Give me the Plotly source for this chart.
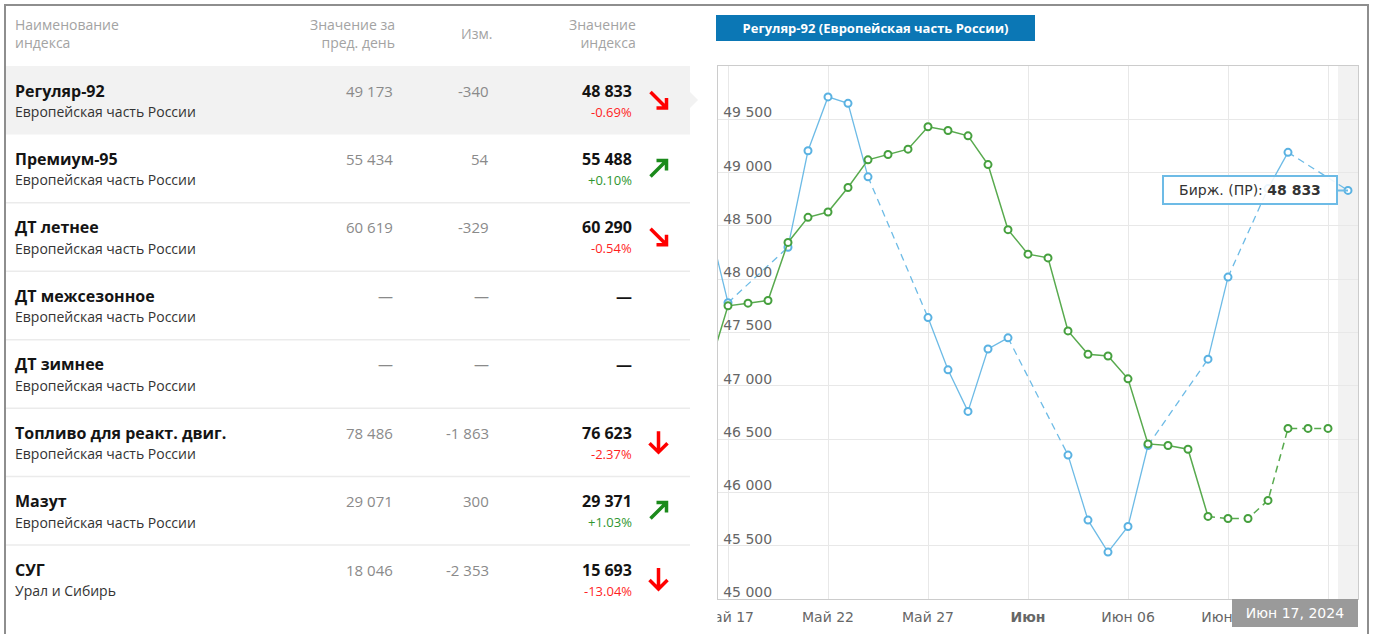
import plotly.graph_objects as go
from datetime import datetime

W, H = 1373, 634
TABLE_FONT = "Open Sans, Noto Sans, sans-serif"
CHART_FONT = "DejaVu Sans, Verdana, sans-serif"

# ---------------- table data ----------------
header_labels = ["Наименование<br>индекса", "Значение за<br>пред. день", "Изм.", "Значение<br>индекса"]
index_names = ["Регуляр-92", "Премиум-95", "ДТ летнее", "ДТ межсезонное", "ДТ зимнее",
               "Топливо для реакт. двиг.", "Мазут", "СУГ"]
index_regions = ["Европейская часть России"] * 7 + ["Урал и Сибирь"]
prev_values = [49173, 55434, 60619, None, None, 78486, 29071, 18046]
changes = [-340, 54, -329, None, None, -1863, 300, -2353]
index_values = [48833, 55488, 60290, None, None, 76623, 29371, 15693]
change_pcts = [-0.69, 0.10, -0.54, None, None, -2.37, 1.03, -13.04]
selected_row = 0

# ---------------- chart data ----------------
chart_title = "Регуляр-92 (Европейская часть России)"
blue_name = "Бирж. (ПР)"
blue_dates = ["2024-05-16", "2024-05-17", "2024-05-20", "2024-05-21", "2024-05-22", "2024-05-23",
              "2024-05-24", "2024-05-27", "2024-05-28", "2024-05-29", "2024-05-30", "2024-05-31",
              "2024-06-03", "2024-06-04", "2024-06-05", "2024-06-06", "2024-06-07", "2024-06-10",
              "2024-06-11", "2024-06-13", "2024-06-14", "2024-06-17"]
blue_values = [48550, 47780, 48300, 49205, 49710, 49650,
               48960, 47640, 47150, 46760, 47345, 47450,
               46350, 45740, 45440, 45680, 46440, 47250,
               48020, 48850, 49190, 48833]

green_dates = ["2024-05-16", "2024-05-17", "2024-05-18", "2024-05-19", "2024-05-20", "2024-05-21",
               "2024-05-22", "2024-05-23", "2024-05-24", "2024-05-25", "2024-05-26", "2024-05-27",
               "2024-05-28", "2024-05-29", "2024-05-30", "2024-05-31", "2024-06-01", "2024-06-02",
               "2024-06-03", "2024-06-04", "2024-06-05", "2024-06-06", "2024-06-07", "2024-06-08",
               "2024-06-09", "2024-06-10", "2024-06-11", "2024-06-12", "2024-06-13", "2024-06-14",
               "2024-06-15", "2024-06-16"]
green_values = [47130, 47750, 47775, 47800, 48345, 48580,
                48630, 48860, 49120, 49170, 49220, 49430,
                49395, 49345, 49075, 48465, 48235, 48200,
                47515, 47295, 47280, 47065, 46455, 46440,
                46405, 45775, 45755, 45755, 45925, 46600,
                46600, 46600]
green_dashed_from = "2024-06-10"

x_range = ["2024-05-16 12:00", "2024-06-17 12:00"]
x_tick_dates = ["2024-05-17", "2024-05-22", "2024-05-27", "2024-06-01", "2024-06-06", "2024-06-11", "2024-06-16"]
x_tick_labels = ["Май 17", "Май 22", "Май 27", "<b>Июн</b>", "Июн 06", "Июн 11", ""]
y_range = [45000, 50000]
y_tick_values = [45000, 45500, 46000, 46500, 47000, 47500, 48000, 48500, 49000, 49500]
hover_date_label = "Июн 17, 2024"

BLUE = "#6dbbe6"
BLUE_M = "#5ab2e2"
GREEN = "#58aa4e"
GREEN_M = "#46a03e"
RED = "#ff1f1f"
GREEN_TXT = "#2f962f"


def px(x):
    return x / W


def py(y):
    return 1 - y / H


def fmt_int(v):
    return f"{v:,}".replace(",", " ")


def build_segments(dates, values, is_dashed):
    sx, sy, dx, dy = [], [], [], []
    for i in range(len(dates) - 1):
        tx, ty = (dx, dy) if is_dashed(i) else (sx, sy)
        if tx and tx[-1] == dates[i]:
            tx.append(dates[i + 1]); ty.append(values[i + 1])
        else:
            if tx:
                tx.append(None); ty.append(None)
            tx += [dates[i], dates[i + 1]]; ty += [values[i], values[i + 1]]
    return sx, sy, dx, dy


def day(s):
    return datetime.fromisoformat(s)


fig = go.Figure()

blue_sx, blue_sy, blue_dx, blue_dy = build_segments(
    blue_dates, blue_values, lambda i: (day(blue_dates[i + 1]) - day(blue_dates[i])).days > 1)
green_sx, green_sy, green_dx, green_dy = build_segments(
    green_dates, green_values, lambda i: green_dates[i] >= green_dashed_from)

fig.add_trace(go.Scatter(x=blue_sx, y=blue_sy, mode="lines", line=dict(color=BLUE, width=1.3), hoverinfo="skip"))
fig.add_trace(go.Scatter(x=blue_dx, y=blue_dy, mode="lines", line=dict(color=BLUE, width=1.3, dash="7px,5px"), hoverinfo="skip"))
fig.add_trace(go.Scatter(x=blue_dates, y=blue_values, mode="markers", name=blue_name,
                         marker=dict(symbol="circle", size=7, color="white", line=dict(color=BLUE_M, width=2))))
fig.add_trace(go.Scatter(x=green_sx, y=green_sy, mode="lines", line=dict(color=GREEN, width=1.5), hoverinfo="skip"))
fig.add_trace(go.Scatter(x=green_dx, y=green_dy, mode="lines", line=dict(color=GREEN, width=1.5, dash="7px,5px"), hoverinfo="skip"))
fig.add_trace(go.Scatter(x=green_dates, y=green_values, mode="markers",
                         marker=dict(symbol="circle", size=7, color="white", line=dict(color=GREEN_M, width=2))))

shapes = []
annotations = []

# hover band on chart
shapes.append(dict(type="rect", xref="x", yref="paper", x0="2024-06-16 12:00", x1=x_range[1],
                   y0=py(599), y1=py(66), fillcolor="#f2f2f2", line=dict(width=0), layer="below"))

# outer frame
FRAME = "#8e8e8e"
shapes.append(dict(type="line", xref="paper", yref="paper", x0=px(5), x1=px(5), y0=py(4), y1=py(640), line=dict(color=FRAME, width=2)))
shapes.append(dict(type="line", xref="paper", yref="paper", x0=px(4), x1=px(1368), y0=py(5), y1=py(5), line=dict(color=FRAME, width=2)))
shapes.append(dict(type="line", xref="paper", yref="paper", x0=px(1368), x1=px(1368), y0=py(4), y1=py(640), line=dict(color=FRAME, width=2)))

# ---------------- table ----------------
ROW_TOP = 66
ROW_H = 68.43
TBL_RIGHT = 690

# header
header_x = [14, 396, 493, 637]
header_anchor = ["left", "right", "right", "right"]
for lab, hx, anc in zip(header_labels, header_x, header_anchor):
    annotations.append(dict(xref="paper", yref="paper", x=px(hx), y=py(33.5), text=lab, showarrow=False,
                            xanchor=anc, yanchor="middle", align=anc, borderpad=0,
                            font=dict(family=TABLE_FONT, size=14, color="#a3a3a3")))

# selected row background + pointer
sel_top = ROW_TOP + selected_row * ROW_H
shapes.append(dict(type="rect", xref="paper", yref="paper", x0=px(6), x1=px(TBL_RIGHT), y0=py(sel_top), y1=py(sel_top + ROW_H),
                   fillcolor="#f2f2f2", line=dict(width=0), layer="below"))
pc = sel_top + 34
shapes.append(dict(type="path", xref="paper", yref="paper",
                   path=f"M {px(TBL_RIGHT)} {py(pc - 8)} L {px(TBL_RIGHT + 8)} {py(pc)} L {px(TBL_RIGHT)} {py(pc + 8)} Z",
                   fillcolor="#f2f2f2", line=dict(width=0), layer="below"))

ARROWS = {
    "down-right": [[(-8, -8), (8, 8)], [(-2, 8), (8, 8), (8, -2)]],
    "up-right": [[(-8, 8), (8, -8)], [(-2, -8), (8, -8), (8, 2)]],
    "down": [[(0, -11), (0, 10)], [(-9, 1), (0, 10), (9, 1)]],
    "up": [[(0, 11), (0, -10)], [(-9, -1), (0, -10), (9, -1)]],
}

for i, name in enumerate(index_names):
    top = ROW_TOP + i * ROW_H
    if i > 0 and i != selected_row + 1:
        shapes.append(dict(type="line", xref="paper", yref="paper", x0=px(6), x1=px(TBL_RIGHT), y0=py(top), y1=py(top),
                           line=dict(color="#ebebeb", width=1.5), layer="below"))
    y1 = top + 24.5
    y2 = top + 45.5
    annotations.append(dict(xref="paper", yref="paper", x=px(14), y=py(y1), text=f"<b>{name}</b>", showarrow=False,
                            xanchor="left", yanchor="middle", borderpad=0,
                            font=dict(family=TABLE_FONT, size=16, color="#141414")))
    annotations.append(dict(xref="paper", yref="paper", x=px(14), y=py(y2), text=index_regions[i], showarrow=False,
                            xanchor="left", yanchor="middle", borderpad=0,
                            font=dict(family=TABLE_FONT, size=14, color="#333333")))
    pv = prev_values[i]
    ch = changes[i]
    iv = index_values[i]
    pct = change_pcts[i]
    annotations.append(dict(xref="paper", yref="paper", x=px(394), y=py(y1), text=fmt_int(pv) if pv is not None else "—",
                            showarrow=False, xanchor="right", yanchor="middle", borderpad=0,
                            font=dict(family=TABLE_FONT, size=15, color="#8a8a8a")))
    annotations.append(dict(xref="paper", yref="paper", x=px(490), y=py(y1), text=fmt_int(ch) if ch is not None else "—",
                            showarrow=False, xanchor="right", yanchor="middle", borderpad=0,
                            font=dict(family=TABLE_FONT, size=15, color="#8a8a8a")))
    annotations.append(dict(xref="paper", yref="paper", x=px(633), y=py(y1),
                            text=f"<b>{fmt_int(iv)}</b>" if iv is not None else "<b>—</b>",
                            showarrow=False, xanchor="right", yanchor="middle", borderpad=0,
                            font=dict(family=TABLE_FONT, size=16, color="#141414")))
    if pct is not None:
        col = RED if pct < 0 else GREEN_TXT
        annotations.append(dict(xref="paper", yref="paper", x=px(633), y=py(y2), text=f"{pct:+.2f}%",
                                showarrow=False, xanchor="right", yanchor="middle", borderpad=0,
                                font=dict(family=TABLE_FONT, size=13, color=col)))
        if pct < 0:
            kind = "down" if pct <= -2 else "down-right"
            acol = "#ff0000"
        else:
            kind = "up" if pct >= 2 else "up-right"
            acol = "#1b8a1b"
        cx, cy = 658.5, top + 34
        parts = []
        for poly in ARROWS[kind]:
            pts = [f"{px(cx + dx)} {py(cy + dy)}" for dx, dy in poly]
            parts.append("M " + " L ".join(pts))
        shapes.append(dict(type="path", xref="paper", yref="paper", path=" ".join(parts),
                           line=dict(color=acol, width=3.5)))

# ---------------- chart decorations ----------------
annotations.append(dict(xref="paper", yref="paper", x=px(716), y=py(15), xanchor="left", yanchor="top",
                        text=f"<b>{chart_title}</b>", showarrow=False, bgcolor="#0b77b5", borderwidth=0,
                        borderpad=2, width=315, height=22, align="center",
                        font=dict(family=TABLE_FONT, size=13, color="white")))

annotations.append(dict(xref="x", yref="y", x=blue_dates[-1], y=blue_values[-1],
                        text=f"{blue_name}: <b>{fmt_int(blue_values[-1])}</b>",
                        showarrow=True, arrowhead=0, arrowwidth=2, arrowcolor=BLUE, ax=-10, ay=0,
                        xanchor="right", yanchor="middle", bgcolor="rgba(255,255,255,0.88)",
                        bordercolor=BLUE, borderwidth=2, borderpad=4, width=164, height=18,
                        font=dict(family=CHART_FONT, size=14, color="#333333")))

annotations.append(dict(xref="paper", yref="paper", x=px(1232), y=py(599), xanchor="left", yanchor="top",
                        text=hover_date_label, showarrow=False, bgcolor="#9a9a9a", borderwidth=0,
                        borderpad=2, width=122, height=24, align="center",
                        font=dict(family=CHART_FONT, size=14, color="white")))

# clip of first x tick label at plot edge
shapes.append(dict(type="rect", xref="paper", yref="paper", x0=px(692), x1=px(717.5), y0=py(603), y1=py(632),
                   fillcolor="white", line=dict(width=0), layer="above"))

fig.update_layout(
    width=W, height=H, autosize=False, margin=dict(l=0, r=0, t=0, b=0, autoexpand=False),
    paper_bgcolor="white", plot_bgcolor="white", showlegend=False, separators=". ",
    hovermode=False,
    xaxis=dict(domain=[px(718), px(1358)], type="date", range=x_range, tickvals=x_tick_dates,
               ticktext=x_tick_labels, showgrid=True, gridcolor="#e8e8e8", gridwidth=1, automargin=False,
               showline=True, linecolor="#cccccc", linewidth=1, mirror=True, ticks="", zeroline=False,
               ticklabelstandoff=5, ticklabeloverflow="allow",
               tickfont=dict(family=CHART_FONT, size=14, color="#666666"), fixedrange=True),
    yaxis=dict(domain=[py(599), py(66)], range=y_range, tickvals=y_tick_values, tickformat=",d",
               ticklabelposition="inside", ticklabelshift=-7, ticklabelstandoff=5, automargin=False,
               ticklabeloverflow="allow",
               showgrid=True, gridcolor="#e8e8e8", gridwidth=1,
               showline=True, linecolor="#cccccc", linewidth=1, mirror=True, ticks="", zeroline=False,
               tickfont=dict(family=CHART_FONT, size=14, color="#666666"), fixedrange=True),
    shapes=shapes, annotations=annotations,
)

fig.write_html(
    "out.html",
    config={"responsive": False, "displayModeBar": False, "staticPlot": True},
    default_width=f"{W}px", default_height=f"{H}px",
    post_script="document.documentElement.style.overflow='hidden';document.body.style.margin='0px';document.body.style.overflow='hidden';",
)
